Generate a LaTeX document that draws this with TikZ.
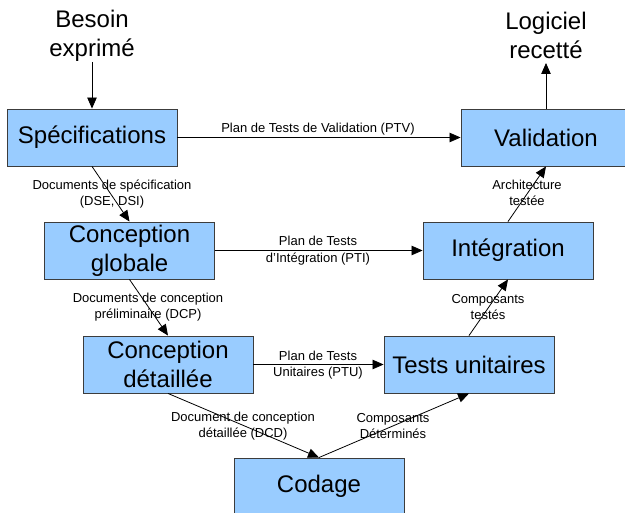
\documentclass[tikz,border=0pt]{standalone}
\usepackage{fontspec}
\setmainfont{Liberation Sans}
\usetikzlibrary{arrows.meta}
\definecolor{boxfill}{RGB}{153,204,255}
\definecolor{boxline}{RGB}{60,60,60}
\tikzset{
  phase/.style={draw=boxline, line width=0.9pt, fill=boxfill,
    minimum width=170pt, minimum height=57pt, inner sep=0pt,
    align=center, font=\fontsize{24}{29}\selectfont},
  ends/.style={align=center, font=\fontsize{24}{29}\selectfont, inner sep=0pt},
  flow/.style={draw=black, line width=0.8pt,
    -{Triangle[length=11pt,width=9.5pt]}},
  lbl/.style={align=center, font=\fontsize{13}{16.5}\selectfont, inner sep=0pt}
}
\begin{document}
\begin{tikzpicture}[x=1pt,y=-1pt]
\useasboundingbox (0,0) rectangle (625,513);

% phases of the V cycle
\node[phase] (spec) at (92,137.5) {Spécifications};
\node[phase] (valid) at (546,137.5) {Validation};
\node[phase] (cglob) at (129.5,250.5) {Conception\\globale};
\node[phase] (integ) at (508,250.5) {Intégration};
\node[phase] (cdet) at (168,364.5) {Conception\\détaillée};
\node[phase] (tu) at (469,364.5) {Tests unitaires};
\node[phase] (cod) at (319,486.5) {Codage};

% inputs and outputs
\node[ends] (besoin) at (92,35.5) {Besoin\\exprimé};
\node[ends] (logiciel) at (546,35.5) {Logiciel\\recetté};
\coordinate (besoinb) at (92,62);
\coordinate (logicielb) at (546,63);

\draw[flow] (besoinb) -- (spec.north);
\draw[flow] (valid.north) -- (logicielb);

% descending branch
\draw[flow] (spec.south) -- (cglob.north);
\draw[flow] (cglob.south) -- (cdet.north);
\draw[flow] (cdet.south) -- (cod.north);

% ascending branch
\draw[flow] (cod.north) -- (tu.south);
\draw[flow] (tu.north) -- (integ.south);
\draw[flow] (integ.north) -- (valid.south);

% test plans
\draw[flow] (spec.east) -- (valid.west);
\draw[flow] (cglob.east) -- (integ.west);
\draw[flow] (cdet.east) -- (tu.west);

% labels
\node[lbl] at (318,129) {Plan de Tests de Validation (PTV)};
\node[lbl] at (318,250.5) {Plan de Tests\\d'Intégration (PTI)};
\node[lbl] at (318,365) {Plan de Tests\\Unitaires (PTU)};
\node[lbl] at (112,194) {Documents de spécification\\(DSE, DSI)};
\node[lbl] at (148,307) {Documents de conception\\préliminaire (DCP)};
\node[lbl] at (243,426) {Document de conception\\détaillée (DCD)};
\node[lbl] at (393,426) {Composants\\Déterminés};
\node[lbl] at (488,307) {Composants\\testés};
\node[lbl] at (527,193) {Architecture\\testée};
\end{tikzpicture}
\end{document}
